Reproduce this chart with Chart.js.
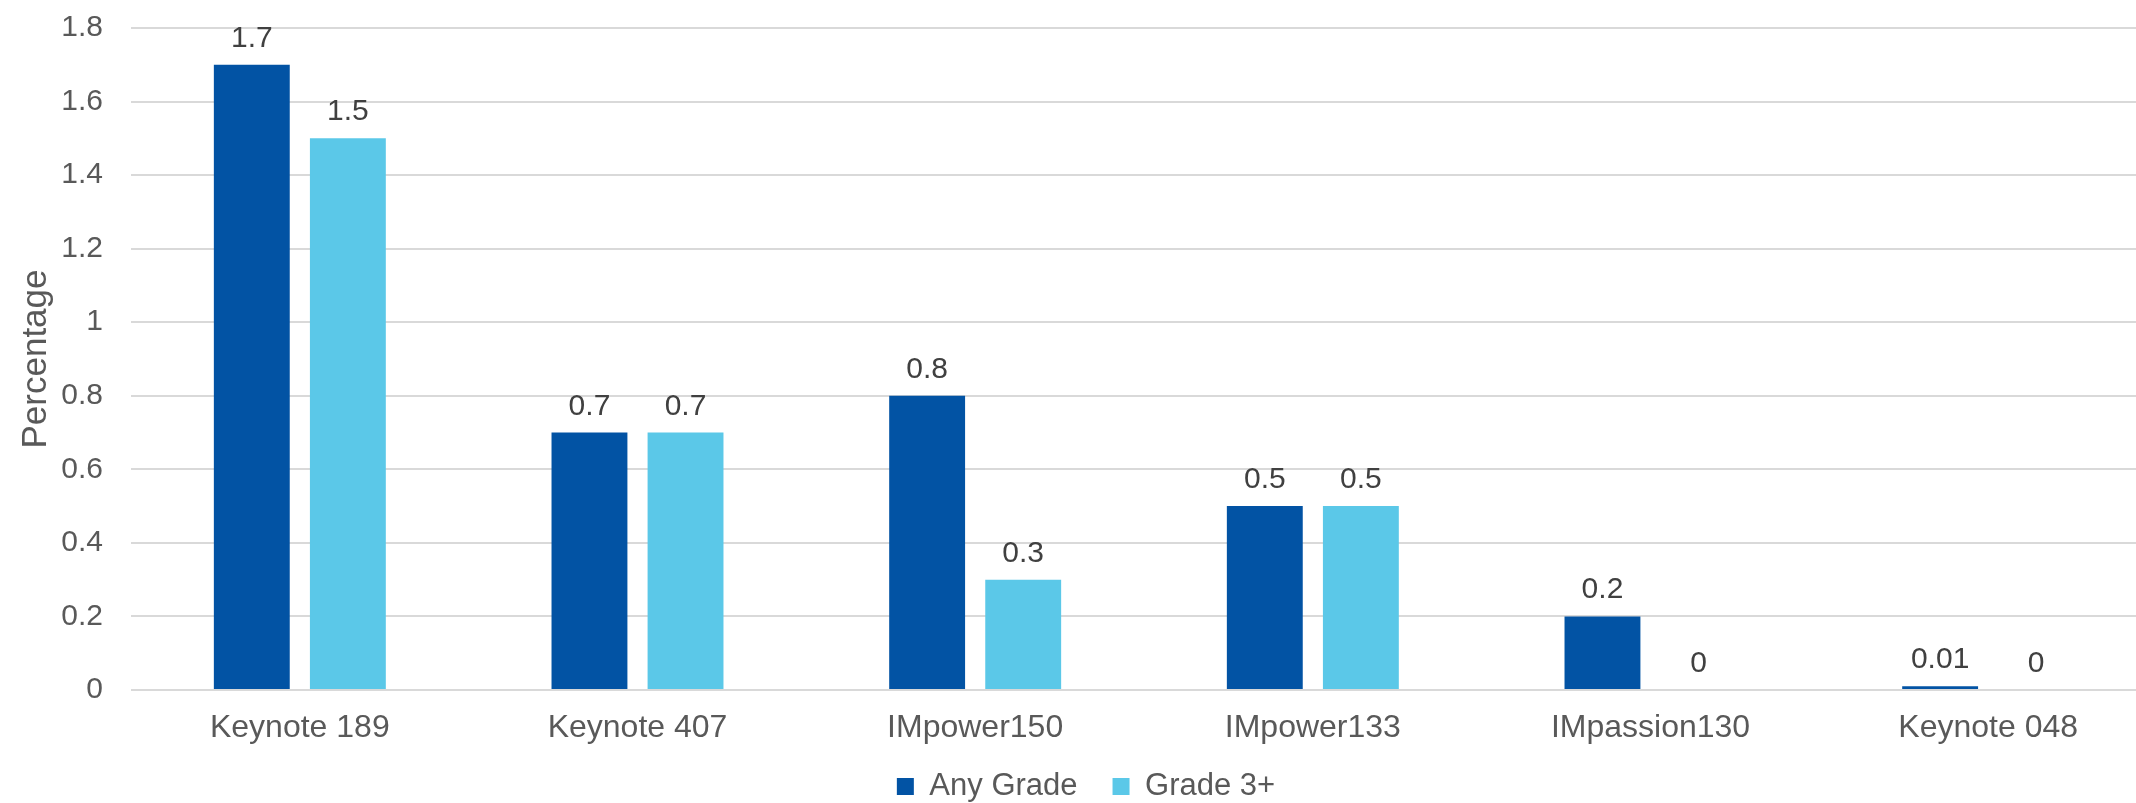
<!DOCTYPE html>
<html><head><meta charset="utf-8">
<script src="https://cdn.jsdelivr.net/npm/chart.js@4"></script>
<style>html,body{margin:0;padding:0;overflow:hidden;background:#fff}
#wrap{position:relative;width:2174px;height:803px}</style>
</head><body><div id="wrap"><canvas id="c"></canvas></div>
<script>
const categories = ['Keynote 189','Keynote 407','IMpower150','IMpower133','IMpassion130','Keynote 048'];
const anyGrade = [1.7, 0.7, 0.8, 0.5, 0.2, 0.01];
const grade3plus = [1.5, 0.7, 0.3, 0.5, 0, 0];
const seriesNames = ['Any Grade', 'Grade 3+'];
const yTicks = [0, 0.2, 0.4, 0.6, 0.8, 1, 1.2, 1.4, 1.6, 1.8];
const yTickLabels = ['0', '0.2', '0.4', '0.6', '0.8', '1', '1.2', '1.4', '1.6', '1.8'];
const yTitle = 'Percentage';

const FONT = '"Liberation Sans", Arial, sans-serif';

const valueLabels = {
  id: 'valueLabels',
  afterDatasetsDraw(chart) {
    const ctx = chart.ctx;
    ctx.save();
    ctx.font = '30px ' + FONT;
    ctx.fillStyle = '#404040';
    ctx.textAlign = 'center';
    ctx.textBaseline = 'alphabetic';
    chart.data.datasets.forEach((ds, i) => {
      chart.getDatasetMeta(i).data.forEach((el, j) => {
        ctx.fillText(String(ds.data[j]), el.x, el.y - 18);
      });
    });
    ctx.restore();
  }
};

const legendHeight = {
  id: 'legendHeight',
  beforeLayout(chart) {
    const lg = chart.legend;
    if (lg && !lg._fixedFit) {
      const orig = lg.fit;
      lg.fit = function () { orig.call(this); this.height = 67; };
      lg._fixedFit = true;
    }
  }
};

new Chart(document.getElementById('c'), {
  type: 'bar',
  data: {
    labels: categories,
    datasets: [
      { label: seriesNames[0], data: anyGrade, backgroundColor: '#0253A4', categoryPercentage: 0.569, barPercentage: 0.79 },
      { label: seriesNames[1], data: grade3plus, backgroundColor: '#5BC8E8', categoryPercentage: 0.569, barPercentage: 0.79 }
    ]
  },
  options: {
    responsive: true,
    maintainAspectRatio: false,
    devicePixelRatio: 1,
    animation: false,
    layout: { padding: { left: 15, right: 17, top: 28, bottom: 0 } },
    plugins: {
      tooltip: { enabled: false },
      legend: {
        position: 'bottom',
        labels: {
          boxWidth: 17, boxHeight: 17, padding: 35,
          color: '#595959',
          font: { family: FONT, size: 31 }
        }
      }
    },
    scales: {
      x: {
        grid: { display: false },
        border: { display: false },
        afterFit: (axis) => { axis.height = 46; axis._computeLabelArea = function () { return undefined; }; },
        ticks: { color: '#595959', font: { family: FONT, size: 32 }, padding: 11, maxRotation: 0, autoSkip: false }
      },
      y: {
        min: 0, max: 1.8,
        afterBuildTicks: (axis) => { axis.ticks = yTicks.map(v => ({ value: v })); },
        afterFit: (axis) => { axis.width = 116; axis.paddingTop = 0; axis.paddingBottom = 0; },
        grid: { color: '#D9D9D9', lineWidth: 2, drawTicks: false },
        border: { display: false },
        ticks: {
          color: '#595959', font: { family: FONT, size: 30 }, padding: 28,
          callback: (v) => yTickLabels[yTicks.indexOf(v)]
        },
        title: { display: true, text: yTitle, color: '#595959', font: { family: FONT, size: 35 }, padding: { top: 0, bottom: 0 } }
      }
    }
  },
  plugins: [valueLabels, legendHeight]
});
</script>
</body></html>
